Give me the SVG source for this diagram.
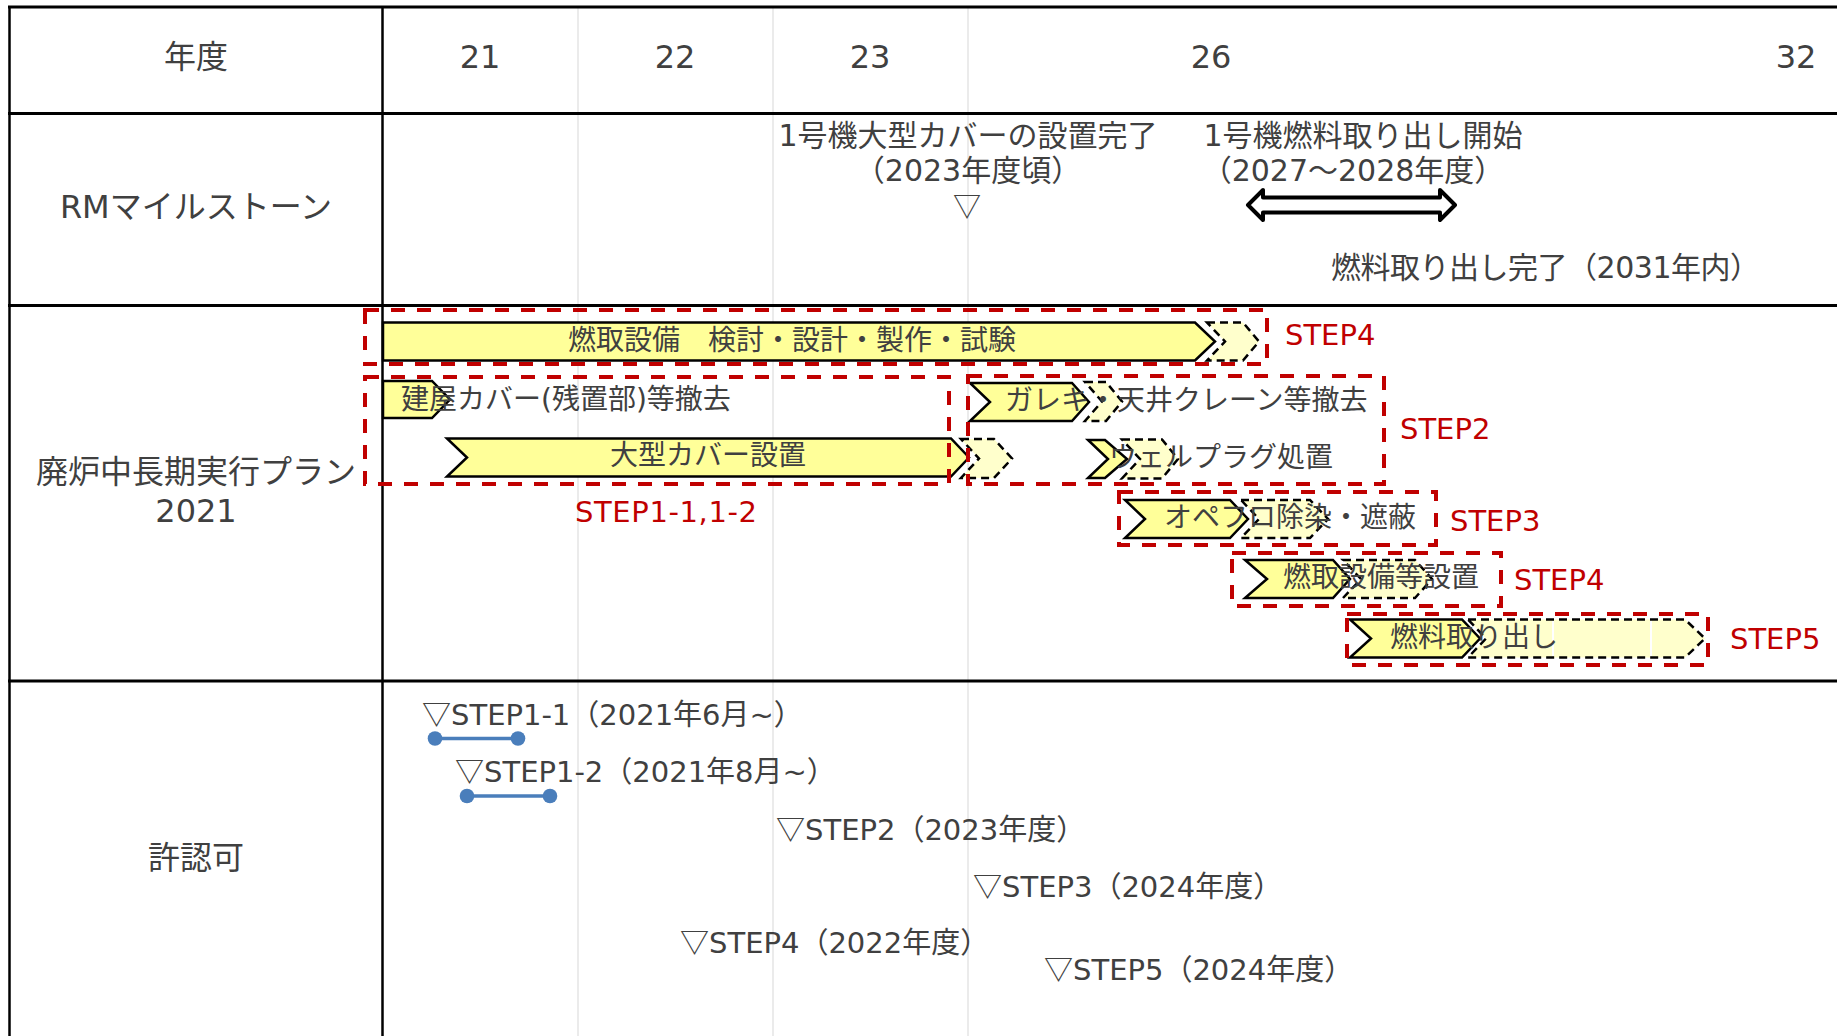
<svg xmlns="http://www.w3.org/2000/svg" width="1837" height="1036" viewBox="0 0 1837 1036">
<style>
.t{font-family:"DejaVu Sans","Noto Sans CJK JP",sans-serif;fill:#404040}
.cjk{font-family:"Noto Sans CJK JP",sans-serif}
.f32{font-size:32px}.f30{font-size:30px}.f29{font-size:29px}.f28{font-size:28px}
.red{fill:#C00000}
.mid{text-anchor:middle}
.bar{fill:#FFFF99;stroke:#000;stroke-width:2.5}
.dbar{fill:#FFFFCC;stroke:#000;stroke-width:2.5;stroke-dasharray:8 5}
.rbox{fill:none;stroke:#C00000;stroke-width:4;stroke-dasharray:14 12}
.grid{stroke:#EBEBEB;stroke-width:2}
.tbl{stroke:#000;stroke-width:3}
.tblv{stroke:#000;stroke-width:2.5}
.blue{stroke:#4A7EBB;stroke-width:3.5}
.dot{fill:#4A7EBB}
</style>
<rect width="1837" height="1036" fill="#fff"/>
<g id="table">
<line class="grid" x1="578" y1="7" x2="578" y2="1036"/>
<line class="grid" x1="773" y1="7" x2="773" y2="1036"/>
<line class="grid" x1="968" y1="7" x2="968" y2="1036"/>
<line class="tbl" x1="8" y1="7" x2="1837" y2="7"/>
<line class="tbl" x1="8" y1="113.5" x2="1837" y2="113.5"/>
<line class="tbl" x1="8" y1="305.5" x2="1837" y2="305.5"/>
<line class="tbl" x1="8" y1="681" x2="1837" y2="681"/>
<line class="tblv" x1="9.5" y1="6" x2="9.5" y2="1036"/>
<line class="tblv" x1="382.5" y1="6" x2="382.5" y2="1036"/>
</g>
<g id="row-labels" class="t f32 mid">
<text x="196" y="68">年度</text>
<text x="196" y="218">RMマイルストーン</text>
<text x="196" y="483">廃炉中長期実行プラン</text>
<text x="196" y="522">2021</text>
<text x="196" y="869">許認可</text>
</g>
<g id="years" class="t f32 mid">
<text x="480" y="68">21</text>
<text x="675" y="68">22</text>
<text x="870" y="68">23</text>
<text x="1211" y="68">26</text>
<text x="1796" y="68">32</text>
</g>
<g id="milestones">
<g id="ms-cover" class="t f30 mid">
<text x="968" y="146">1号機大型カバーの設置完了</text>
<text x="968" y="181">（2023年度頃）</text>
<text x="967" y="217" class="cjk f28">▽</text>
</g>
<g id="ms-start" class="t f30 mid">
<text x="1363" y="146">1号機燃料取り出し開始</text>
<text x="1353" y="181">（2027～2028年度）</text>
<path d="M1248,205 L1263,190 L1263,197.5 L1440,197.5 L1440,190 L1455,205 L1440,220 L1440,212.5 L1263,212.5 L1263,220 Z" fill="#fff" stroke="#000" stroke-width="4" stroke-linejoin="round"/>
</g>
<g id="ms-end" class="t f30">
<text x="1331" y="278" textLength="429">燃料取り出し完了（2031年内）</text>
</g>
</g>
<g id="tasks">
<g id="task-fuel-design">
<path class="bar" d="M383,322.5 H1195 L1215,341.5 L1195,360.5 H383 Z"/>
<path class="dbar" d="M1207,322.5 H1243 L1259,341.5 L1243,360.5 H1207 L1225,341.5 Z"/>
</g>
<g id="task-building-cover">
<path class="bar" d="M383,381 H432 L450,399.5 L432,418 H383 Z"/>
</g>
<g id="task-large-cover">
<path class="bar" d="M447,438.5 H951 L969,457.5 L951,476.5 H447 L467,457.5 Z"/>
<path class="dbar" d="M961,439 H994 L1012,458.5 L994,478 H961 L979,458.5 Z"/>
</g>
<g id="task-rubble">
<path class="bar" d="M970,383 H1072 L1089,402 L1072,421 H970 L990,402 Z"/>
<path class="dbar" d="M1085,382 H1106 L1122,401.5 L1106,421 H1085 L1102,401.5 Z"/>
</g>
<g id="task-wellplug">
<path class="bar" d="M1088,440 H1105 L1127,459 L1105,478 H1088 L1108,459 Z"/>
<path class="dbar" d="M1122,439.5 H1162 L1178,459 L1162,478.5 H1122 L1140,459 Z"/>
</g>
<g id="task-opefloor">
<path class="bar" d="M1125,500 H1230 L1248,519 L1230,538 H1125 L1145,519 Z"/>
<path class="dbar" d="M1241,500 H1310 L1328,519 L1310,538 H1241 L1259,519 Z"/>
</g>
<g id="task-fuel-equip">
<path class="bar" d="M1245,560 H1333 L1350,579 L1333,598 H1245 L1267,579 Z"/>
<path class="dbar" d="M1343,560 H1415 L1432,579 L1415,598 H1343 L1361,579 Z"/>
</g>
<g id="task-fuel-removal">
<path class="bar" d="M1350,619.5 H1462 L1480,638.5 L1462,657.5 H1350 L1371,638.5 Z"/>
<path class="dbar" d="M1468,619.5 H1685 L1705,638.5 L1685,657.5 H1468 L1486,638.5 Z"/>
<line x1="1553" y1="621" x2="1553" y2="656" stroke="#fff" stroke-width="2"/>
<line x1="1651" y1="621" x2="1651" y2="656" stroke="#fff" stroke-width="2"/>
</g>
</g>
<g id="steps">
<rect class="rbox" x="365" y="310" width="902" height="54"/>
<rect class="rbox" x="365" y="377" width="584" height="107"/>
<rect class="rbox" x="968" y="376" width="416" height="108"/>
<rect class="rbox" x="1119" y="492" width="317" height="53"/>
<rect class="rbox" x="1232" y="553" width="269" height="53"/>
<rect class="rbox" x="1347" y="614" width="361" height="51"/>
<g class="t f29 red">
<text x="1285" y="345">STEP4</text>
<text x="575" y="521.5" textLength="182">STEP1-1,1-2</text>
<text x="1400" y="439">STEP2</text>
<text x="1450" y="531">STEP3</text>
<text x="1514" y="590">STEP4</text>
<text x="1730" y="649">STEP5</text>
</g>
</g>
<g id="task-labels" class="t f28">
<text x="568" y="350">燃取設備　検討・設計・製作・試験</text>
<text x="401" y="409">建屋カバー(残置部)等撤去</text>
<text x="610" y="465">大型カバー設置</text>
<text x="1005" y="410">ガレキ・天井クレーン等撤去</text>
<text x="1109" y="467">ウェルプラグ処置</text>
<text x="1164" y="527">オペフロ除染・遮蔽</text>
<text x="1283" y="587">燃取設備等設置</text>
<text x="1390" y="647">燃料取り出し</text>
</g>
<g id="permits" class="t f29">
<text x="422" y="725"><tspan class="cjk">▽</tspan>STEP1-1（2021年6月~）</text>
<text x="455" y="782"><tspan class="cjk">▽</tspan>STEP1-2（2021年8月~）</text>
<text x="776" y="840"><tspan class="cjk">▽</tspan>STEP2（2023年度）</text>
<text x="973" y="897"><tspan class="cjk">▽</tspan>STEP3（2024年度）</text>
<text x="680" y="953"><tspan class="cjk">▽</tspan>STEP4（2022年度）</text>
<text x="1044" y="980"><tspan class="cjk">▽</tspan>STEP5（2024年度）</text>
</g>
<g id="permit-spans">
<line class="blue" x1="435" y1="738.5" x2="518" y2="738.5"/>
<circle class="dot" cx="435" cy="738.5" r="7.3"/>
<circle class="dot" cx="518" cy="738.5" r="7.3"/>
<line class="blue" x1="467" y1="796" x2="550" y2="796"/>
<circle class="dot" cx="467" cy="796" r="7.3"/>
<circle class="dot" cx="550" cy="796" r="7.3"/>
</g>
</svg>
